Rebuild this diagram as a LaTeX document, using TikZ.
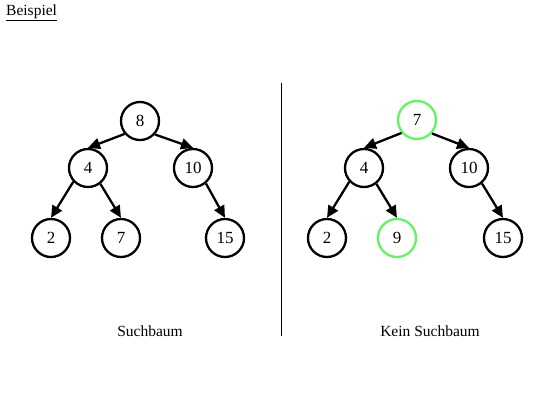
\documentclass[tikz,border=0pt]{standalone}
\usepackage{fontspec}
\setmainfont{Liberation Serif}
\usetikzlibrary{arrows.meta}
\definecolor{lgreen}{RGB}{102,240,102}
\begin{document}
\begin{tikzpicture}[x=1pt,y=-1pt,
  knode/.style={circle,draw,line width=2.3pt,minimum size=38pt,inner sep=0pt,font=\fontsize{17}{19}\selectfont},
  gnode/.style={knode,draw=lgreen},
  edge/.style={line width=2.3pt,-{Triangle[length=12pt,width=11pt]}},
  lbl/.style={font=\fontsize{15.5}{18}\selectfont,inner sep=0pt}]
\useasboundingbox (0,0) rectangle (555,416);
\node[lbl,anchor=west] (title) at (6,13) {\underline{Beispiel}};
% left tree
\node[knode] (a8) at (140,121) {8};
\node[knode] (a4) at (88,168) {4};
\node[knode] (a10) at (193,168) {10};
\node[knode] (a2) at (51,238) {2};
\node[knode] (a7) at (121,238) {7};
\node[knode] (a15) at (225,238) {15};
\draw[edge] (a8.220) -- (a4.north);
\draw[edge] (a8.318) -- (a10.north);
\draw[edge] (a4.223) -- (a2.north);
\draw[edge] (a4.308) -- (a7.north);
\draw[edge] (a10.310) -- (a15.north);
% right tree
\node[gnode] (b7) at (417,120) {7};
\node[knode] (b4) at (364,168) {4};
\node[knode] (b10) at (469,168) {10};
\node[knode] (b2) at (327,238) {2};
\node[gnode] (b9) at (397,238) {9};
\node[knode] (b15) at (503,238) {15};
\draw[edge] (b7.220) -- (b4.north);
\draw[edge] (b7.318) -- (b10.north);
\draw[edge] (b4.223) -- (b2.north);
\draw[edge] (b4.308) -- (b9.north);
\draw[edge] (b10.310) -- (b15.north);
% divider
\coordinate (d1) at (281,83);
\coordinate (d2) at (281,336);
\draw[line width=0.8pt] (d1) -- (d2);
\node[lbl] (c1) at (150,331) {Suchbaum};
\node[lbl] (c2) at (430,331) {Kein Suchbaum};
\end{tikzpicture}
\end{document}
